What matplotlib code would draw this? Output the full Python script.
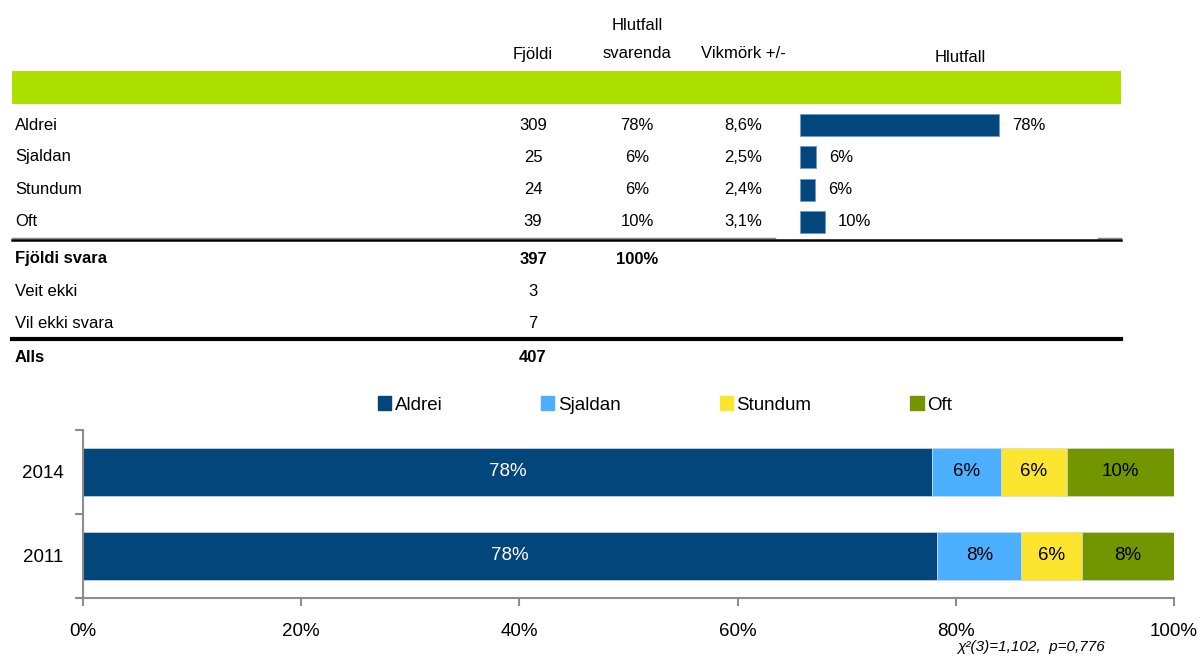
import numpy as np
import matplotlib
matplotlib.use('Agg')
import matplotlib.pyplot as plt
from matplotlib.patches import Rectangle, Patch

plt.rcParams['font.family'] = ['Liberation Sans', 'DejaVu Sans']

# Table data
categories = ['Aldrei', 'Sjaldan', 'Stundum', 'Oft']
counts = [309, 25, 24, 39]
shares = [77.8, 6.3, 6.0, 9.8]
margins = ['8,6%', '2,5%', '2,4%', '3,1%']
total_label = 'Fjöldi svara'
total_count = 397
total_share = '100%'
extra_rows = ['Veit ekki', 'Vil ekki svara']
extra_counts = [3, 7]
all_label = 'Alls'
all_count = 407

# Comparison chart data
years = ['2011', '2014']
aldrei = [78.3, 77.8]
sjaldan = [7.7, 6.3]
stundum = [5.6, 6.1]
oft = [8.4, 9.8]
series_names = ['Aldrei', 'Sjaldan', 'Stundum', 'Oft']
colors = ['#03467C', '#4DAFFF', '#FCE52E', '#729500']
text_colors = ['white', 'black', 'black', 'black']
chi_text = 'χ²(3)=1,102,  p=0,776'

W, H = 1200, 657
fig = plt.figure(figsize=(12, 6.57), dpi=100)

# overlay axes in pixel coordinates for the table
ax_t = fig.add_axes([0, 0, 1, 1])
ax_t.set_xlim(0, W)
ax_t.set_ylim(H, 0)
ax_t.axis('off')

fs = 12
col_n, col_p, col_m = 533, 637, 743
ax_t.text(col_p, 25, 'Hlutfall', ha='center', va='center', fontsize=fs)
ax_t.text(col_n, 54, 'Fjöldi', ha='center', va='center', fontsize=fs)
ax_t.text(col_p, 54, 'svarenda', ha='center', va='center', fontsize=fs)
ax_t.text(col_m, 54, 'Vikmörk +/-', ha='center', va='center', fontsize=fs)
ax_t.text(960, 57, 'Hlutfall', ha='center', va='center', fontsize=fs)
ax_t.add_patch(Rectangle((12, 71), 1109, 33, color='#ADE000', lw=0))

row_y = [125, 157, 190, 222]
for y, c, n, s, m in zip(row_y, categories, counts, shares, margins):
    ax_t.text(15, y, c, ha='left', va='center', fontsize=fs)
    ax_t.text(col_n, y, str(n), ha='center', va='center', fontsize=fs)
    ax_t.text(col_p, y, f'{s:.0f}%', ha='center', va='center', fontsize=fs)
    ax_t.text(col_m, y, m, ha='center', va='center', fontsize=fs)

ax_t.plot([12, 775], [237.5, 237.5], color='#888888', lw=1)
ax_t.plot([1098, 1121], [237.5, 237.5], color='#888888', lw=1)
ax_t.plot([12, 1121], [239.5, 239.5], color='black', lw=1.8)
ax_t.text(15, 259, total_label, ha='left', va='center', fontsize=fs, fontweight='bold')
ax_t.text(col_n, 259, str(total_count), ha='center', va='center', fontsize=fs, fontweight='bold')
ax_t.text(col_p, 259, total_share, ha='center', va='center', fontsize=fs, fontweight='bold')
for y, c, n in zip([292, 324], extra_rows, extra_counts):
    ax_t.text(15, y, c, ha='left', va='center', fontsize=fs)
    ax_t.text(col_n, y, str(n), ha='center', va='center', fontsize=fs)
ax_t.plot([12, 1121], [339, 339], color='black', lw=3)
ax_t.text(15, 357, all_label, ha='left', va='center', fontsize=fs, fontweight='bold')
ax_t.text(col_n, 357, str(all_count), ha='center', va='center', fontsize=fs, fontweight='bold')

# mini bar chart in the table
ax_m = fig.add_axes([800 / W, 1 - 238 / H, 256 / W, 129 / H])
ax_m.barh(np.arange(len(categories)), shares, height=0.68, color='#03467C',
          edgecolor='#6F9BC4', lw=0.6)
ax_m.set_xlim(0, 100)
ax_m.set_ylim(len(categories) - 0.5, -0.5)
ax_m.axis('off')
for i, s in enumerate(shares):
    ax_m.annotate(f'{s:.0f}%', (s, i), xytext=(9, 0), textcoords='offset points',
                  ha='left', va='center', fontsize=fs)

# stacked comparison chart
ax = fig.add_axes([83 / W, 1 - 598 / H, (1174 - 83) / W, (598 - 430) / H])
y = np.arange(len(years))
left = np.zeros(len(years))
handles = []
for name, vals, col, tc in zip(series_names, [aldrei, sjaldan, stundum, oft], colors, text_colors):
    bars = ax.barh(y, vals, left=left, height=0.57, color=col, edgecolor='#D0D8E0', lw=0.5)
    for b, v in zip(bars, vals):
        ax.text(b.get_x() + b.get_width() / 2, b.get_y() + b.get_height() / 2, f'{v:.0f}%',
                ha='center', va='center', color=tc, fontsize=13.5)
    left += np.array(vals)
    handles.append(Patch(color=col, label=name))

ax.set_xlim(0, 100)
ax.set_ylim(-0.5, 1.5)
ax.set_xticks(np.arange(0, 101, 20))
ax.set_xticklabels([f'{t}%' for t in range(0, 101, 20)], fontsize=13.5)
ax.set_yticks(y)
ax.set_yticklabels(years, fontsize=13.5)
ax.set_yticks([-0.5, 0.5, 1.5], minor=True)
ax.tick_params(axis='y', which='major', length=0, pad=14)
ax.tick_params(axis='y', which='minor', length=6, color='#8C8C8C', width=1.5)
ax.tick_params(axis='x', length=6, color='#8C8C8C', width=1.5, pad=12)
for s in ['top', 'right']:
    ax.spines[s].set_visible(False)
for s in ['left', 'bottom']:
    ax.spines[s].set_color('#8C8C8C')
    ax.spines[s].set_linewidth(1.5)

fig.legend(handles=handles, loc='center', bbox_to_anchor=(665 / W, 1 - 405 / H), ncol=4,
           frameon=False, fontsize=13.5, handlelength=0.7, handleheight=0.7,
           handletextpad=0.2, columnspacing=5.27)

fig.text(1105 / W, 1 - 647 / H, chi_text, ha='right', va='center', fontsize=11, style='italic')

fig.savefig('out.png', dpi=100)
